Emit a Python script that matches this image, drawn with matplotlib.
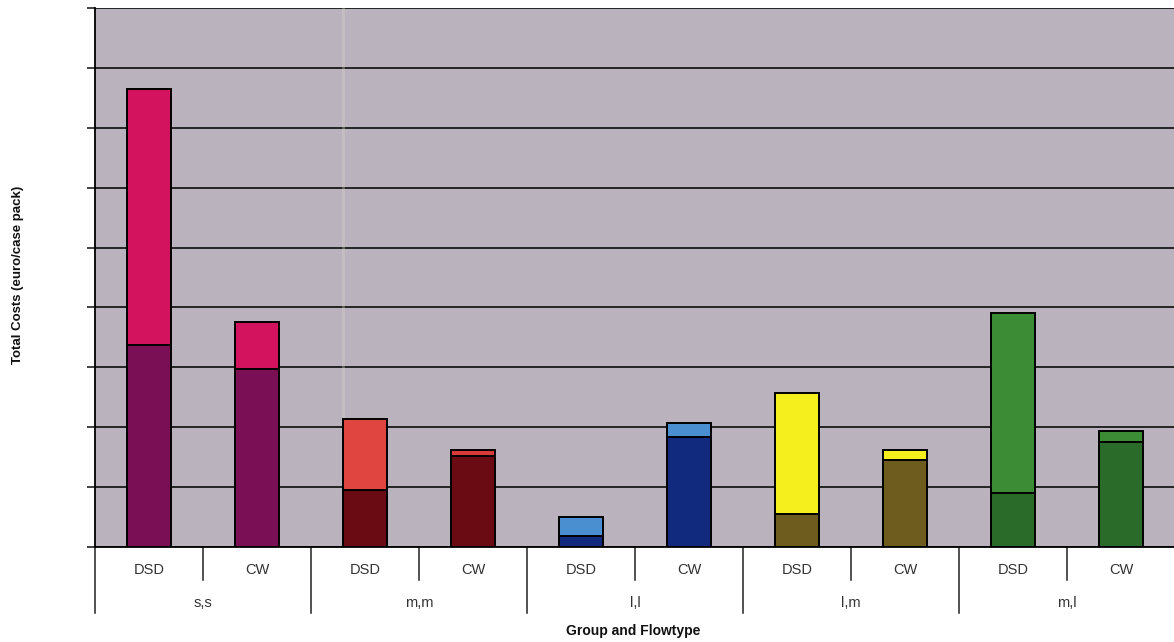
import matplotlib
matplotlib.use("Agg")
import matplotlib.pyplot as plt
import matplotlib.transforms as mtransforms

# Total costs per group and flow type (euro/case pack), split into two stacked components
groups = ["s,s", "m,m", "l,l", "l,m", "m,l"]
flowtypes = ["DSD", "CW"]
base_costs = [3.37, 2.97, 0.95, 1.52, 0.18, 1.84, 0.55, 1.45, 0.90, 1.75]
extra_costs = [4.28, 0.79, 1.19, 0.10, 0.32, 0.23, 2.02, 0.17, 3.01, 0.19]

base_colors = ["#7a0f55", "#7a0f55", "#6a0a12", "#6a0a12", "#122a7d",
               "#122a7d", "#6e5b1e", "#6e5b1e", "#2a6b2a", "#2a6b2a"]
extra_colors = ["#d4135f", "#d4135f", "#e0463f", "#d83a3a", "#4a8fd0",
                "#4a8fd0", "#f5ef1e", "#f5ef1e", "#3c8c36", "#3c8c36"]

W, H = 1174, 642
fig = plt.figure(figsize=(W / 100, H / 100), dpi=100)
fig.patch.set_facecolor("white")
ax = fig.add_axes([95 / W, (H - 547) / H, (1175 - 95) / W, (547 - 8) / H])
ax.set_facecolor("#bab3be")

n = len(base_costs)
xpos = [i + 0.5 for i in range(n)]
ax.bar(xpos, base_costs, width=0.4, color=base_colors, edgecolor="black",
       linewidth=1.4, zorder=3)
ax.bar(xpos, extra_costs, bottom=base_costs, width=0.4, color=extra_colors,
       edgecolor="black", linewidth=1.4, zorder=3)

ax.set_xlim(0, n)
ax.set_ylim(0, 9)
ax.set_yticks(range(0, 10))
ax.set_yticklabels([])
ax.yaxis.grid(True, color="#1a1a1a", linewidth=1.3, zorder=1)
ax.set_axisbelow(True)
ax.tick_params(axis="y", direction="out", length=6, width=1.2, color="#222222")
ax.set_xticks([])
for side in ["top", "right"]:
    ax.spines[side].set_visible(False)
ax.spines["left"].set_linewidth(1.3)
ax.spines["bottom"].set_linewidth(1.3)

# faint light streak across the plot area
ax.axvline(((343 - 95) / (1175 - 95)) * n, color="#d8d4c8", linewidth=2.0,
           alpha=0.35, zorder=2)

# two-level category axis below the plot
trans = mtransforms.blended_transform_factory(ax.transData, ax.transAxes)
ph = 547 - 8
for i in range(n):
    ax.text(i + 0.5, -23 / ph, flowtypes[i % 2], transform=trans,
            ha="center", va="center", fontsize=10.5, color="#333333",
            family="Liberation Sans")
for g, name in enumerate(groups):
    ax.text(2 * g + 1, -56 / ph, name, transform=trans, ha="center",
            va="center", fontsize=10.5, color="#333333", family="Liberation Sans")
for k in range(n + 1):
    depth = 66 if k % 2 == 0 else 33
    ax.plot([k, k], [0, -depth / ph], transform=trans, color="#222222",
            linewidth=1.1, clip_on=False)

fig.text(((633) / W), 1 - 631 / H, "Group and Flowtype", ha="center",
         va="center", fontsize=10, fontweight="bold", color="#111111",
         family=["Liberation Sans Narrow", "Liberation Sans"])
fig.text(18 / W, 1 - 275 / H, "Total Costs (euro/case pack)", ha="center",
         va="center", rotation=90, fontsize=9.5, fontweight="bold",
         color="#111111", family="Liberation Sans")

fig.savefig("out.png", dpi=100, facecolor="white")
